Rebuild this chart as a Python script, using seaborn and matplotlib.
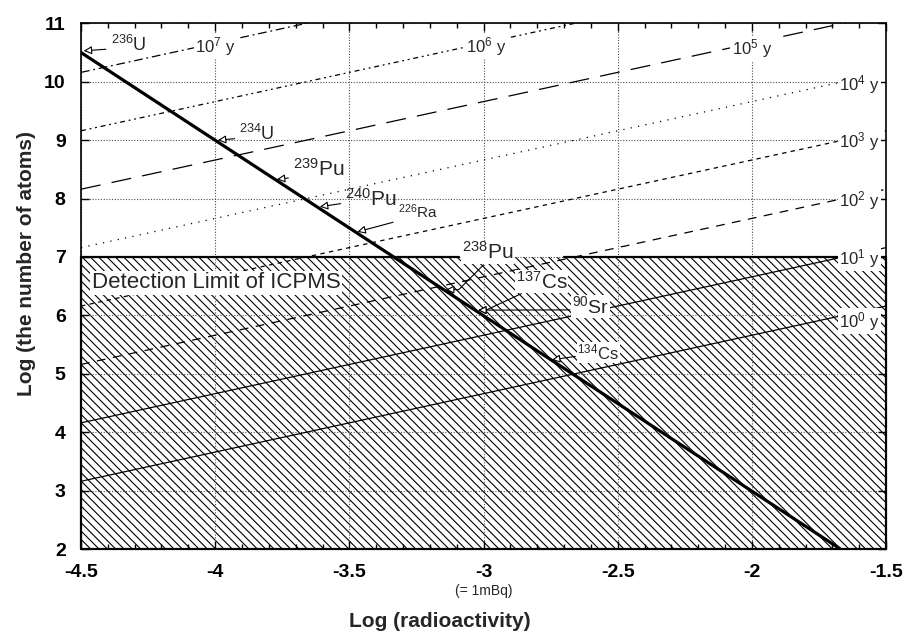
import seaborn as sns
import matplotlib.pyplot as plt
from matplotlib.ticker import MultipleLocator

# half-life lines (10^n years), y read at the left (-4.5) and right (-1.5) edges
half_life_exp = [7, 6, 5, 4, 3, 2, 1, 0]
line_x = [-4.5, -1.5]
y_left = [10.16, 9.16, 8.16, 7.16, 6.16, 5.16, 4.16, 3.16]
y_right = [13.16, 12.16, 11.16, 10.16, 9.16, 8.16, 7.16, 6.16]

# thick line through the isotopes
limit_x = [-4.5, -1.67]
limit_y = [10.5, 2.0]

# detection limit of ICPMS
detect_low = 2
detect_level = 7
edge_gap = [-3.09, -2.70]

# isotopes: label, point on thick line, text position
isotopes = ['$^{236}$U', '$^{234}$U', '$^{239}$Pu', '$^{240}$Pu', '$^{226}$Ra',
            '$^{238}$Pu', '$^{137}$Cs', '$^{90}$Sr', '$^{134}$Cs']
iso_x = [-4.49, -3.99, -3.77, -3.61, -3.47, -3.14, -3.02, -3.02, -2.745]
iso_y = [10.53, 9.0, 8.33, 7.86, 7.43, 6.44, 6.09, 6.09, 5.24]
text_x = [-4.39, -3.91, -3.71, -3.515, -3.32, -3.08, -2.88, -2.67, -2.65]
text_y = [10.63, 9.1, 8.51, 8.0, 7.77, 7.08, 6.58, 6.15, 5.37]
text_size = [13, 13, 15, 15, 11, 15, 15, 14, 12]
in_hatch = [False, False, False, False, False, True, True, True, True]
rel_pos = [(0, 0.3), (0, 0.3), (0, 0.1), (0, 0.3), (0.15, 0.1),
           (0.45, 0.0), (0.25, 0.1), (0, 0.35), (0, 0.3)]
conn = ['arc3', 'arc3', 'arc3', 'arc3', 'arc3',
        'angle,angleA=45,angleB=0,rad=0', 'angle,angleA=25,angleB=0,rad=0', 'arc3', 'arc3']

# half-life label positions
hl_labels = ['10$^{7}$ y', '10$^{6}$ y', '10$^{5}$ y', '10$^{4}$ y',
             '10$^{3}$ y', '10$^{2}$ y', '10$^{1}$ y', '10$^{0}$ y']
hl_x = [-4.0, -2.99, -2.0, -1.675, -1.675, -1.675, -1.675, -1.675]
hl_y = [10.6, 10.6, 10.56, 9.96, 8.97, 7.96, 6.98, 5.9]
hl_ha = ['center', 'center', 'center', 'left', 'left', 'left', 'left', 'left']

line_styles = {7: (0, (7, 3, 1.5, 3)), 6: (0, (4, 3, 1.5, 3, 1.5, 3)),
               5: (0, (16, 9)), 4: (0, (1, 5)), 3: (0, (3.5, 3.5)),
               2: (0, (7, 6)), 1: '-', 0: '-'}

x_ticks = [-4.5, -4, -3.5, -3, -2.5, -2, -1.5]
x_tick_labels = ['-4.5', '-4', '-3.5', '-3', '-2.5', '-2', '-1.5']
y_ticks = [2, 3, 4, 5, 6, 7, 8, 9, 10, 11]

sns.set_theme(style='ticks')
plt.rcParams['font.family'] = ['Liberation Sans', 'DejaVu Sans']
plt.rcParams['mathtext.fontset'] = 'custom'
plt.rcParams['mathtext.rm'] = 'Liberation Sans'
plt.rcParams['mathtext.default'] = 'rm'
plt.rcParams['axes.unicode_minus'] = False
plt.rcParams['hatch.linewidth'] = 0.8

fig = plt.figure(figsize=(9.04, 6.39), dpi=100)
ax = fig.add_axes([0.0896, 0.1408, 0.8905, 0.8227])

# hatched detection-limit region
ax.fill_between(line_x, detect_low, detect_level, facecolor='white', edgecolor='black',
                hatch='\\\\\\\\', linewidth=0, zorder=1)
ax.plot([edge_gap[0], line_x[0], line_x[0], line_x[1], line_x[1], edge_gap[1]],
        [detect_level, detect_level, detect_low, detect_low, detect_level, detect_level],
        color='black', lw=1.6, zorder=2.5, clip_on=False)

# half-life lines
for k, y0, y1 in zip(half_life_exp, y_left, y_right):
    sns.lineplot(x=line_x, y=[y0, y1], ax=ax, color='black', lw=0.9,
                 linestyle=line_styles[k], zorder=2)

sns.lineplot(x=limit_x, y=limit_y, ax=ax, color='black', lw=2.3, zorder=3)

for lab, x, y, ha in zip(hl_labels, hl_x, hl_y, hl_ha):
    ax.text(x, y, lab, ha=ha, va='center', fontsize=12, zorder=4,
            bbox=dict(fc='white', ec='none', pad=1.0))

for i, lab in enumerate(isotopes):
    bbox = dict(fc='white', ec='none', pad=0.5) if in_hatch[i] else None
    ax.annotate(lab, xy=(iso_x[i], iso_y[i]), xytext=(text_x[i], text_y[i]),
                ha='left', va='center', fontsize=text_size[i], zorder=5, bbox=bbox,
                arrowprops=dict(arrowstyle='-|>', ec='black', fc='white', lw=0.8,
                                mutation_scale=12, shrinkA=1, shrinkB=0,
                                relpos=rel_pos[i], connectionstyle=conn[i]))

ax.text(-4.46, 6.56, 'Detection Limit of ICPMS', fontsize=16, ha='left', va='center',
        zorder=4, bbox=dict(fc='white', ec='none', pad=1.0))

ax.set_xlim(-4.5, -1.5)
ax.set_ylim(2, 11)
ax.set_xticks(x_ticks)
ax.set_xticklabels(x_tick_labels)
ax.set_yticks(y_ticks)
ax.xaxis.set_minor_locator(MultipleLocator(0.1))
ax.tick_params(which='both', direction='in', top=True, right=True, width=1, colors='black')
ax.tick_params(which='major', length=6, labelsize=14)
ax.tick_params(axis='x', which='major', pad=11)
ax.tick_params(axis='y', which='major', pad=11)
ax.tick_params(which='minor', length=3.5)
for t in ax.get_xticklabels() + ax.get_yticklabels():
    t.set_fontweight('bold')
ax.set_axisbelow('line')
ax.grid(True, which='major', color='0.3', linestyle=(0, (1, 1.5)), lw=0.8)
for s in ax.spines.values():
    s.set_linewidth(1.2)
    s.set_color('black')

ax.text(-3, -0.08, '(= 1mBq)', transform=ax.get_xaxis_transform(),
        ha='center', va='center', fontsize=10)
ax.set_xlabel('Log (radioactivity)', fontsize=15, fontweight='bold')
ax.xaxis.set_label_coords(0.446, -0.12)
ax.set_ylabel('Log (the number of atoms)', fontsize=15, fontweight='bold')
ax.yaxis.set_label_coords(-0.056, 0.544)

fig.savefig('out.png', dpi=100)
